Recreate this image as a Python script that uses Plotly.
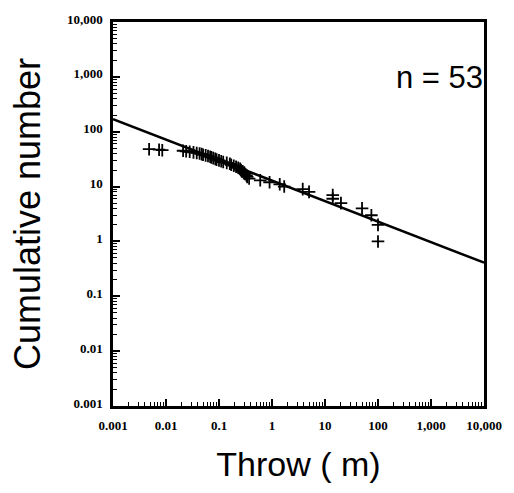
import plotly.graph_objects as go

# Data
throw_m = [100, 100, 75, 50, 20, 14, 14, 5, 3.8, 1.7, 1.4, 0.9, 0.6, 0.37,
           0.34, 0.33, 0.31, 0.30, 0.28, 0.26, 0.25, 0.23, 0.21, 0.19, 0.17,
           0.16, 0.14, 0.12, 0.11, 0.10, 0.09, 0.085, 0.078, 0.072, 0.068,
           0.062, 0.056, 0.05, 0.047, 0.043, 0.038, 0.033, 0.028, 0.024,
           0.021, 0.0085, 0.0074, 0.0048]
cum_number = [1, 2, 3, 4, 5, 6, 7, 8, 9, 10, 11, 12, 13, 14,
              15, 16, 17, 18, 19, 20, 21, 22, 23, 24, 25,
              26, 27, 28, 29, 30, 31, 32, 33, 34, 35,
              36, 37, 38, 39, 40, 41, 42, 43, 44,
              45, 46, 47, 48]

fit_x = [0.001, 10000]
fit_y = [170, 0.41]

fig = go.Figure()
fig.add_trace(go.Scatter(x=fit_x, y=fit_y, mode="lines",
                         line=dict(color="black", width=2.5),
                         showlegend=False, hoverinfo="skip"))
fig.add_trace(go.Scatter(x=throw_m, y=cum_number, mode="markers",
                         marker=dict(symbol="cross-thin", size=9,
                                     line=dict(color="black", width=1.8),
                                     color="black"),
                         showlegend=False))

tickfont = dict(family="Liberation Serif", size=13, color="black", weight="bold")
axis_common = dict(
    type="log", range=[-3, 4], showgrid=False, zeroline=False,
    showline=True, linecolor="black", linewidth=2.5, mirror=True,
    tickmode="linear", tick0=0, dtick=1, tickformat=",~g",
    ticks="inside", ticklen=7, tickwidth=1.5, tickcolor="#000000",
    tickfont=tickfont,
    minor=dict(ticks="inside", ticklen=4, tickwidth=1.2, tickcolor="#000000",
               dtick="D1", showgrid=False),
)

fig.update_xaxes(**axis_common, ticklabelstandoff=6,
                 title=dict(text="Throw ( m)", standoff=20,
                            font=dict(family="Liberation Sans", size=34, color="black")))
fig.update_yaxes(**axis_common, ticklabelstandoff=5, ticklabelshift=-3,
                 title=dict(text="Cumulative number", standoff=16,
                            font=dict(family="Liberation Sans", size=36, color="black")))

fig.add_annotation(x=0.88, y=0.855, xref="paper", yref="paper",
                   text="n = 53", showarrow=False,
                   font=dict(family="Liberation Sans", size=31, color="black"),
                   xanchor="center", yanchor="middle")

fig.update_layout(width=514, height=493,
                  margin=dict(l=113, r=21, t=19, b=87),
                  plot_bgcolor="white", paper_bgcolor="white")

fig.write_html("out.html")
